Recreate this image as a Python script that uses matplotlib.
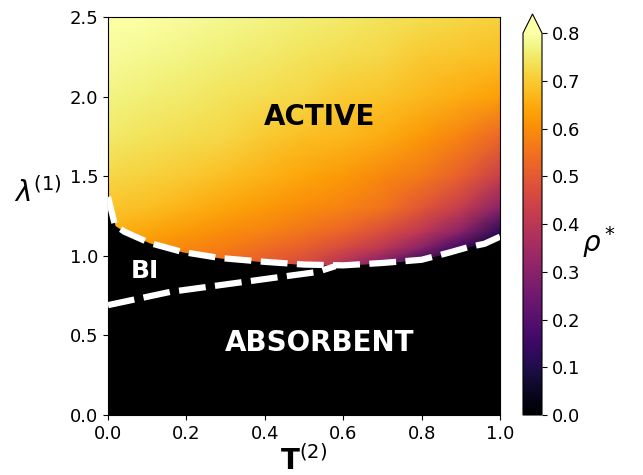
import numpy as np
import matplotlib
matplotlib.use("Agg")
import matplotlib.pyplot as plt

# ---- data ----
T_grid = [0.0, 0.1, 0.2, 0.3, 0.4, 0.5, 0.6, 0.7, 0.8, 0.9, 1.0]
lam_grid = [0.9, 0.95, 1.05, 1.15, 1.3, 1.5, 1.75, 2.0, 2.25, 2.5]
rho = [
    [0.58, 0.56, 0.54, 0.52, 0.47, 0.42, 0.33, 0.20, 0.05, 0.00, 0.00],
    [0.60, 0.58, 0.56, 0.54, 0.50, 0.46, 0.38, 0.28, 0.12, 0.00, 0.00],
    [0.63, 0.61, 0.59, 0.57, 0.54, 0.51, 0.46, 0.40, 0.30, 0.15, 0.02],
    [0.66, 0.64, 0.62, 0.60, 0.58, 0.55, 0.52, 0.47, 0.40, 0.30, 0.12],
    [0.69, 0.68, 0.66, 0.64, 0.62, 0.60, 0.58, 0.55, 0.49, 0.42, 0.30],
    [0.72, 0.71, 0.70, 0.68, 0.66, 0.64, 0.62, 0.59, 0.56, 0.51, 0.43],
    [0.75, 0.74, 0.73, 0.72, 0.70, 0.68, 0.67, 0.65, 0.62, 0.58, 0.53],
    [0.77, 0.76, 0.75, 0.74, 0.73, 0.72, 0.70, 0.69, 0.67, 0.65, 0.63],
    [0.79, 0.78, 0.77, 0.76, 0.75, 0.74, 0.73, 0.72, 0.70, 0.69, 0.68],
    [0.80, 0.80, 0.79, 0.78, 0.77, 0.76, 0.75, 0.74, 0.73, 0.72, 0.71],
]

T_up = [0.0, 0.018, 0.043, 0.107, 0.19, 0.286, 0.40, 0.50, 0.60, 0.70, 0.80, 0.87, 0.92, 0.96, 1.0]
lam_up = [1.37, 1.19, 1.15, 1.08, 1.024, 0.986, 0.962, 0.945, 0.94, 0.955, 0.975, 1.02, 1.055, 1.075, 1.12]

T_lo = [0.0, 0.158, 0.344, 0.439, 0.533, 0.58]
lam_lo = [0.69, 0.773, 0.835, 0.867, 0.898, 0.935]

x_ticks = [0.0, 0.2, 0.4, 0.6, 0.8, 1.0]
y_ticks = [0.0, 0.5, 1.0, 1.5, 2.0, 2.5]
cbar_ticks = [0.0, 0.1, 0.2, 0.3, 0.4, 0.5, 0.6, 0.7, 0.8]

# ---- figure ----
fig = plt.figure(figsize=(6.43, 4.75), dpi=100)
ax = fig.add_axes([108/643, 60/475, 392/643, 398/475])
cax = fig.add_axes([523/643, 60/475, 19/643, 401/475])

mesh = ax.pcolormesh(np.array(T_grid), np.array(lam_grid), np.array(rho),
                     shading='gouraud', cmap='inferno', vmin=0, vmax=0.8, zorder=1)
ax.fill_between(T_up, 0, lam_up, color='black', lw=0, zorder=2)

dash = (0, (4.3, 1.5))
ax.plot(T_up, lam_up, color='white', lw=4.5, linestyle=dash, zorder=3)
ax.plot(T_lo, lam_lo, color='white', lw=4.5, linestyle=dash, zorder=3)

ax.text(0.54, 1.87, 'ACTIVE', fontsize=20, fontweight='bold', color='black',
        ha='center', va='center', zorder=4)
ax.text(0.54, 0.45, 'ABSORBENT', fontsize=20, fontweight='bold', color='white',
        ha='center', va='center', zorder=4)
ax.text(0.095, 0.905, 'BI', fontsize=18, fontweight='bold', color='white',
        ha='center', va='center', zorder=4)

ax.set_xlim(0, 1)
ax.set_ylim(0, 2.5)
ax.set_xticks(x_ticks)
ax.set_yticks(y_ticks)
ax.tick_params(labelsize=13)

ax.set_xlabel(r'$\mathbf{T}^{(2)}$', fontsize=20, labelpad=2)
ax.set_ylabel(r'$\lambda^{(1)}$', fontsize=20, rotation=0)
ax.yaxis.set_label_coords(-0.18, 0.52)

cbar = fig.colorbar(mesh, cax=cax, extend='max', ticks=cbar_ticks)
cbar.ax.tick_params(labelsize=13)
cbar.set_label(r'$\rho^*$', fontsize=20, rotation=0)
cbar.ax.yaxis.set_label_coords(4.0, 0.5)

fig.savefig('out.png', dpi=100)
